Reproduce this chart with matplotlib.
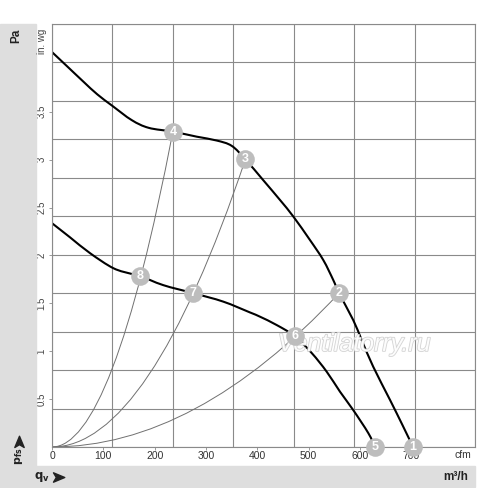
import matplotlib
matplotlib.use('Agg')
import matplotlib.pyplot as plt
from matplotlib.patches import Rectangle, PathPatch
from matplotlib.path import Path
from matplotlib.lines import Line2D
import matplotlib.patheffects as pe

plt.rcParams['font.family'] = ['Liberation Sans', 'DejaVu Sans']

# fan curves (m3/h, Pa)
high_q = [0, 50, 104, 150, 200, 264, 320, 400, 479, 545, 595, 640, 699, 755,
          799, 854, 898, 931, 950, 997, 1025, 1063, 1119, 1160, 1195]
high_p = [1027, 990, 950, 917, 887, 850, 830, 820, 807, 797, 783, 748, 694, 642,
          599, 538, 486, 434, 400, 330, 278, 209, 122, 57, 0]
low_q = [0, 60, 126, 203, 264, 291, 368, 468, 567, 655, 688, 744, 804, 860,
         909, 953, 997, 1047, 1069]
low_p = [582, 545, 504, 465, 450, 445, 421, 400, 378, 350, 339, 317, 288, 244,
         196, 144, 96, 36, 0]

# numbered operating points
point_labels = ['1', '2', '3', '4', '5', '6', '7', '8']
point_q = [1195, 950, 640, 400, 1069, 804, 468, 291]
point_p = [0, 400, 748, 820, 0, 288, 400, 445]
# system curves (parabolas from the origin) end at these points
system_ends = ['4', '3', '2']

m3h_ticks = [200, 400, 600, 800, 1000, 1200]
pa_ticks = [200, 400, 600, 800]
cfm_ticks = [0, 100, 200, 300, 400, 500, 600, 700]
inwg_ticks = [0.5, 1, 1.5, 2, 2.5, 3, 3.5]

W, H = 500, 488
fig = plt.figure(figsize=(W / 100, H / 100), dpi=100)


def fx(x):
    return x / W


def fy(y):
    return 1 - y / H


def smooth_path(xs, ys):
    # Catmull-Rom through the read points, handed to matplotlib as cubic Beziers
    pts = list(zip(xs, ys))
    verts = [pts[0]]
    codes = [Path.MOVETO]
    n = len(pts)
    for i in range(n - 1):
        p0 = pts[max(i - 1, 0)]
        p1 = pts[i]
        p2 = pts[i + 1]
        p3 = pts[min(i + 2, n - 1)]
        c1 = (p1[0] + (p2[0] - p0[0]) / 6, p1[1] + (p2[1] - p0[1]) / 6)
        c2 = (p2[0] - (p3[0] - p1[0]) / 6, p2[1] - (p3[1] - p1[1]) / 6)
        verts += [c1, c2, p2]
        codes += [Path.CURVE4] * 3
    return Path(verts, codes)


band = '#dedede'
fig.patches.append(Rectangle((fx(0), fy(487)), fx(36), fy(24) - fy(487),
                             transform=fig.transFigure, color=band, zorder=0))
fig.patches.append(Rectangle((fx(0), fy(487)), fx(475), fy(466) - fy(487),
                             transform=fig.transFigure, color=band, zorder=0))

ax = fig.add_axes([fx(52), fy(447), fx(475) - fx(52), fy(24) - fy(447)])
ax.set_xlim(0, 1400)
ax.set_ylim(0, 1100)
ax.set_facecolor('none')

gridc = '#8a8a8a'
for s in ax.spines.values():
    s.set_color(gridc)
    s.set_linewidth(0.8)
ax.set_xticks(range(0, 1401, 200))
ax.set_yticks(range(0, 1101, 100))
ax.grid(True, color=gridc, linewidth=0.8)
ax.set_axisbelow(True)

ax.set_xticks(m3h_ticks, minor=True)
ax.set_xticklabels([])
ax.set_yticklabels([])
ax.tick_params(which='major', length=0)
ax.set_xticklabels([str(v) for v in m3h_ticks], minor=True,
                   fontweight='bold', fontsize=8.5, color='#222222')
ax.tick_params(axis='x', which='minor', length=0, pad=16)
ax.set_yticks(pa_ticks, minor=True)
ax.set_yticklabels([str(v) for v in pa_ticks], minor=True,
                   fontweight='bold', fontsize=8.5, color='#222222')
ax.tick_params(axis='y', which='minor', length=0, pad=17)

# cfm scale
sx = ax.secondary_xaxis('bottom', functions=(lambda q: q / 1.699, lambda c: c * 1.699))
sx.set_xticks(cfm_ticks)
sx.set_xticklabels([str(v) for v in cfm_ticks], fontsize=7.5, color='#333333')
sx.tick_params(length=2, width=0.6, color=gridc, pad=1)
sx.spines['bottom'].set_visible(False)

# in. wg scale
sy = ax.secondary_yaxis('left', functions=(lambda p: p / 249.09, lambda w: w * 249.09))
sy.set_yticks(inwg_ticks)
sy.set_yticklabels([('%g' % v) for v in inwg_ticks], fontsize=7, color='#444444',
                   rotation=90, va='center')
sy.tick_params(length=2, width=0.6, color=gridc, pad=2)
sy.spines['left'].set_visible(False)

# system curves: quadratic Bezier from the origin = parabola through the end point
for lab in system_ends:
    i = point_labels.index(lab)
    qe, pe_ = point_q[i], point_p[i]
    path = Path([(0, 0), (qe / 2, 0), (qe, pe_)], [Path.MOVETO, Path.CURVE3, Path.CURVE3])
    ax.add_patch(PathPatch(path, fill=False, edgecolor='#707070', linewidth=0.7, zorder=1))

for xs, ys in [(high_q, high_p), (low_q, low_p)]:
    ax.add_patch(PathPatch(smooth_path(xs, ys), fill=False, edgecolor='black',
                           linewidth=1.5, zorder=2, capstyle='round'))

ax.text(1000, 268, 'Ventilatorry.ru', fontsize=18, style='italic', color='white',
        ha='center', va='center', zorder=3, alpha=0.9,
        path_effects=[pe.withStroke(linewidth=1.2, foreground='#cfcfcf')])

ax.scatter(point_q, point_p, s=180, color='#bdbdbd', zorder=4, clip_on=False,
           linewidths=0)
for lab, q, p in zip(point_labels, point_q, point_p):
    ax.text(q, p, lab, color='white', fontsize=9, fontweight='bold',
            ha='center', va='center', zorder=5, clip_on=False)

fig.text(fx(16), fy(36), 'Pa', rotation=90, fontsize=8.5, fontweight='bold',
         ha='center', va='center', color='#222222')
fig.text(fx(42), fy(41), 'in. wg', rotation=90, fontsize=7, color='#444444',
         ha='center', va='center')
fig.text(fx(19), fy(456), r'$\mathbf{p}_{\mathbf{fs}}$', rotation=90, fontsize=8,
         ha='center', va='center', color='#222222')
fig.text(fx(42), fy(477), r'$\mathbf{q}_{\mathbf{v}}$', fontsize=8.5,
         ha='center', va='center', color='#222222')

# arrowheads next to p_fs and q_v
head = Path([(1, 0), (-0.8, 0.75), (-0.35, 0), (-0.8, -0.75), (1, 0)],
            [Path.MOVETO, Path.LINETO, Path.LINETO, Path.LINETO, Path.CLOSEPOLY])
head_up = Path([(-y, x) for x, y in head.vertices], head.codes)
fig.add_artist(Line2D([fx(58)], [fy(477)], marker=head, markersize=9,
                      color='#222222', linestyle='none', transform=fig.transFigure))
fig.add_artist(Line2D([fx(19)], [fy(442)], marker=head_up, markersize=9,
                      color='#222222', linestyle='none', transform=fig.transFigure))

fig.text(fx(463), fy(455), 'cfm', fontsize=7.5, color='#333333',
         ha='center', va='center')
fig.text(fx(456), fy(477), 'm³/h', fontsize=8.5, fontweight='bold', color='#222222',
         ha='center', va='center')

fig.savefig('out.png', dpi=100)
